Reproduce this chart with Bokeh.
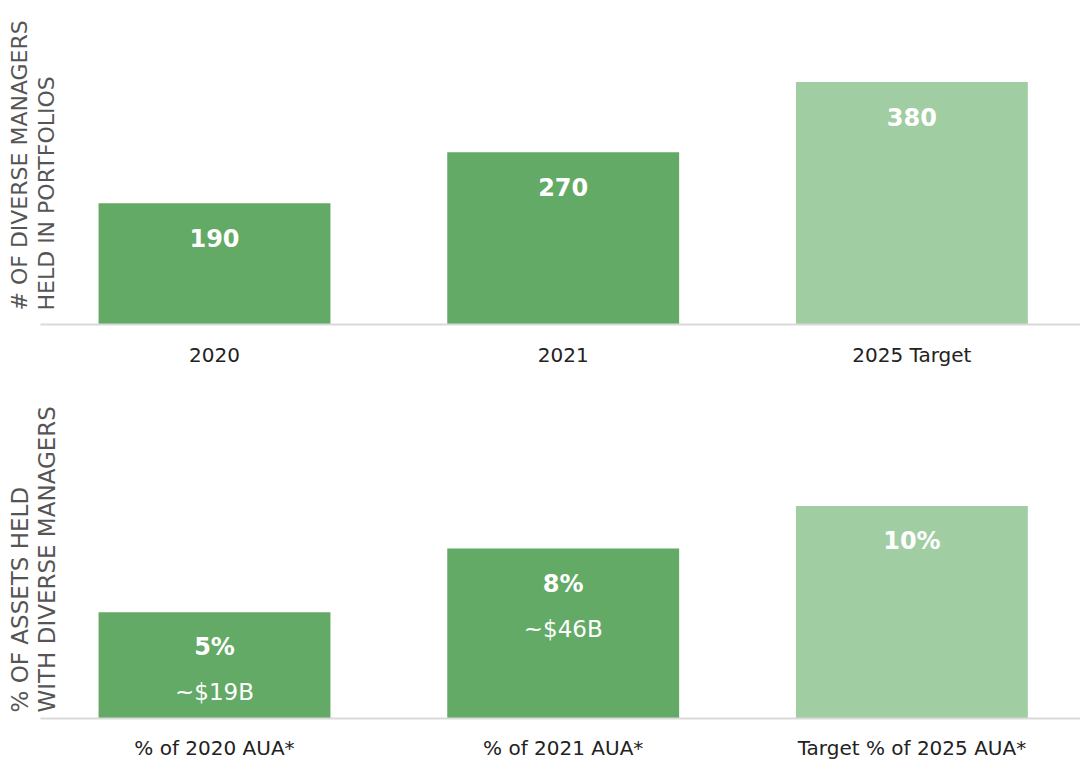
import math
from bokeh.plotting import figure
from bokeh.models import Range1d, FixedTicker, ColumnDataSource, Label
from bokeh.layouts import column
from bokeh.core.properties import value
from bokeh.embed import file_html
from bokeh.resources import INLINE

# ---- data ----
top_categories = ["2020", "2021", "2025 Target"]
top_values = [190, 270, 380]
top_labels = ["190", "270", "380"]

bottom_categories = ["% of 2020 AUA*", "% of 2021 AUA*", "Target % of 2025 AUA*"]
bottom_values = [5, 8, 10]
bottom_labels = ["5%", "8%", "10%"]
bottom_sublabels = ["~$19B", "~$46B", ""]

DARK = "#63aa66"
LIGHT = "#a1cda3"
bar_colors = [DARK, DARK, LIGHT]
FONT = "DejaVu Sans"
W = 1080
PX_PER_CAT = 348.7
X0 = -214 / PX_PER_CAT
X1 = X0 + W / PX_PER_CAT


def px_to_x(px):
    return X0 + px / PX_PER_CAT


def make_panel(cats, vals, labels, sublabels, frame_h, px_per_unit, height, ylines, standoff):
    idx = list(range(len(cats)))
    p = figure(width=W, height=height, output_backend="svg", toolbar_location=None,
               x_range=Range1d(X0, X1), y_range=Range1d(0, frame_h / px_per_unit),
               min_border_left=0, min_border_right=0, min_border_top=0,
               min_border_bottom=height - frame_h)
    p.outline_line_color = None
    p.grid.visible = False
    p.yaxis.visible = False
    src = ColumnDataSource(dict(x=idx, top=vals, color=bar_colors, lab=labels, sub=sublabels))
    p.vbar(x="x", top="top", width=0.665, bottom=0, color="color", source=src, line_color=None)
    p.text(x="x", y="top", text="lab", source=src, y_offset=35, text_align="center",
           text_baseline="middle", text_color="white", text_font=value(FONT),
           text_font_size="24px", text_font_style="bold")
    if any(sublabels):
        p.text(x="x", y="top", text="sub", source=src, y_offset=80, text_align="center",
               text_baseline="middle", text_color="white", text_font=value(FONT),
               text_font_size="23px")
    ax = p.xaxis[0]
    ax.ticker = FixedTicker(ticks=idx)
    ax.bounds = (px_to_x(40), X1)
    ax.major_label_overrides = {i: c for i, c in zip(idx, cats)}
    ax.axis_line_color = "#d9d9d9"
    ax.axis_line_width = 2
    ax.major_tick_line_color = None
    ax.minor_tick_line_color = None
    ax.major_label_text_font = FONT
    ax.major_label_text_font_size = "20px"
    ax.major_label_text_color = "#222222"
    ax.major_label_standoff = standoff
    # rotated y-axis titles
    for (px, up_px, txt, fs) in ylines:
        lab = Label(x=px_to_x(px), y=up_px / px_per_unit, text=txt, angle=math.pi / 2,
                    text_align="left", text_baseline="middle", text_font=FONT,
                    text_font_size=fs, text_color="#555555")
        p.add_layout(lab)
    return p


# top: frame 0..324, 0.638 px/unit
p1 = make_panel(top_categories, top_values, top_labels, ["", "", ""], 324, 0.638, 380,
                [(19, 14, "# OF DIVERSE MANAGERS", "22px"), (46, 14, "HELD IN PORTFOLIOS", "22px")], 12)
# bottom: frame 380..718 (338px), 21.25 px/unit
p2 = make_panel(bottom_categories, bottom_values, bottom_labels, bottom_sublabels, 338, 21.25, 387,
                [(19, 6, "% OF ASSETS HELD", "23px"), (46, 6, "WITH DIVERSE MANAGERS", "23px")], 11)

layout = column(p1, p2, spacing=0)
open("out.html", "w").write(file_html(layout, INLINE))
